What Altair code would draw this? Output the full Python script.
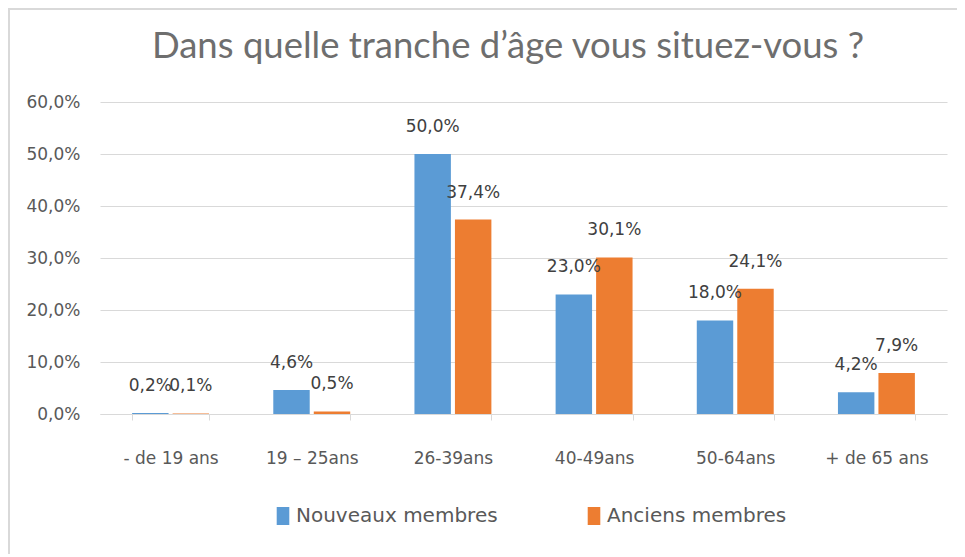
import altair as alt
import pandas as pd

categories = ["- de 19 ans", "19 – 25ans", "26-39ans", "40-49ans", "50-64ans", "+ de 65 ans"]
series = ["Nouveaux membres", "Anciens membres"]
nouveaux = [0.2, 4.6, 50.0, 23.0, 18.0, 4.2]
anciens = [0.1, 0.5, 37.4, 30.1, 24.1, 7.9]
y_ticks = [0, 10, 20, 30, 40, 50, 60]
colors = ["#5B9BD5", "#ED7D31"]
title_text = "Dans quelle tranche d’âge vous situez-vous ?"

rows = []
for i, c in enumerate(categories):
    rows.append({"cat": c, "series": series[0], "value": nouveaux[i]})
    rows.append({"cat": c, "series": series[1], "value": anciens[i]})
df = pd.DataFrame(rows)

FONT = "DejaVu Sans"
TFONT = "Lato"
TXT = "#595959"

base = alt.Chart(df).transform_calculate(
    label="replace(format(datum.value, '.1f'), '.', ',') + '%'"
)

x = alt.X(
    "cat:N",
    sort=categories,
    scale=alt.Scale(paddingInner=0.455, paddingOuter=0.2275),
    axis=alt.Axis(
        title=None, tickBand="extent", labelAngle=0, grid=False,
        domainColor="#D9D9D9", tickColor="#D9D9D9", tickSize=6,
        labelPadding=30, labelFontSize=17, labelColor=TXT, labelFont=FONT,
    ),
)
xo = alt.XOffset("series:N", sort=series, scale=alt.Scale(paddingInner=0.1, paddingOuter=0))
y = alt.Y(
    "value:Q",
    scale=alt.Scale(domain=[0, 60], nice=False),
    axis=alt.Axis(
        title=None, values=y_ticks, domain=False, ticks=False,
        labelExpr="replace(format(datum.value, '.1f'), '.', ',') + '%'",
        gridColor="#D9D9D9", gridWidth=1, labelPadding=20,
        labelFontSize=17, labelColor=TXT, labelFont=FONT,
    ),
)

bars = base.mark_bar().encode(
    x=x, xOffset=xo, y=y,
    color=alt.Color(
        "series:N", sort=series,
        scale=alt.Scale(domain=series, range=colors),
        legend=alt.Legend(
            title=None, orient="none", legendX=173, legendY=404,
            direction="horizontal",
            symbolType="M-0.7,-1L0.7,-1L0.7,1L-0.7,1Z", symbolSize=324,
            symbolStrokeWidth=0, labelOffset=3, columnPadding=86,
            labelFontSize=20, labelColor=TXT, labelFont=FONT, labelLimit=500,
        ),
    ),
)

labels = base.mark_text(dy=-27, baseline="middle", fontSize=17, color="#404040", font=FONT).encode(
    x=x, xOffset=xo, y=y, text="label:N"
)

one = pd.DataFrame({"t": [title_text]})
title = alt.Chart(one).mark_text(
    fontSize=36.5, font=TFONT, color="#6E6E6E", align="center", baseline="middle"
).encode(x=alt.value(408), y=alt.value(-55), text="t:N")

frame_left = alt.Chart(one).mark_rule(color="#D9D9D9", strokeWidth=2).encode(
    x=alt.value(-91), y=alt.value(-93), y2=alt.value(455)
)
frame_top = alt.Chart(one).mark_rule(color="#D9D9D9", strokeWidth=2).encode(
    x=alt.value(-92), x2=alt.value(860), y=alt.value(-93)
)

chart = alt.layer(frame_left, frame_top, title, bars, labels).properties(
    width=847,
    height=312,
    autosize=alt.AutoSizeParams(type="none"),
    padding={"left": 92, "top": 94, "right": 10, "bottom": 140},
).configure_view(stroke=None)

chart.save("out.html", embed_options={"renderer": "svg", "actions": False})
